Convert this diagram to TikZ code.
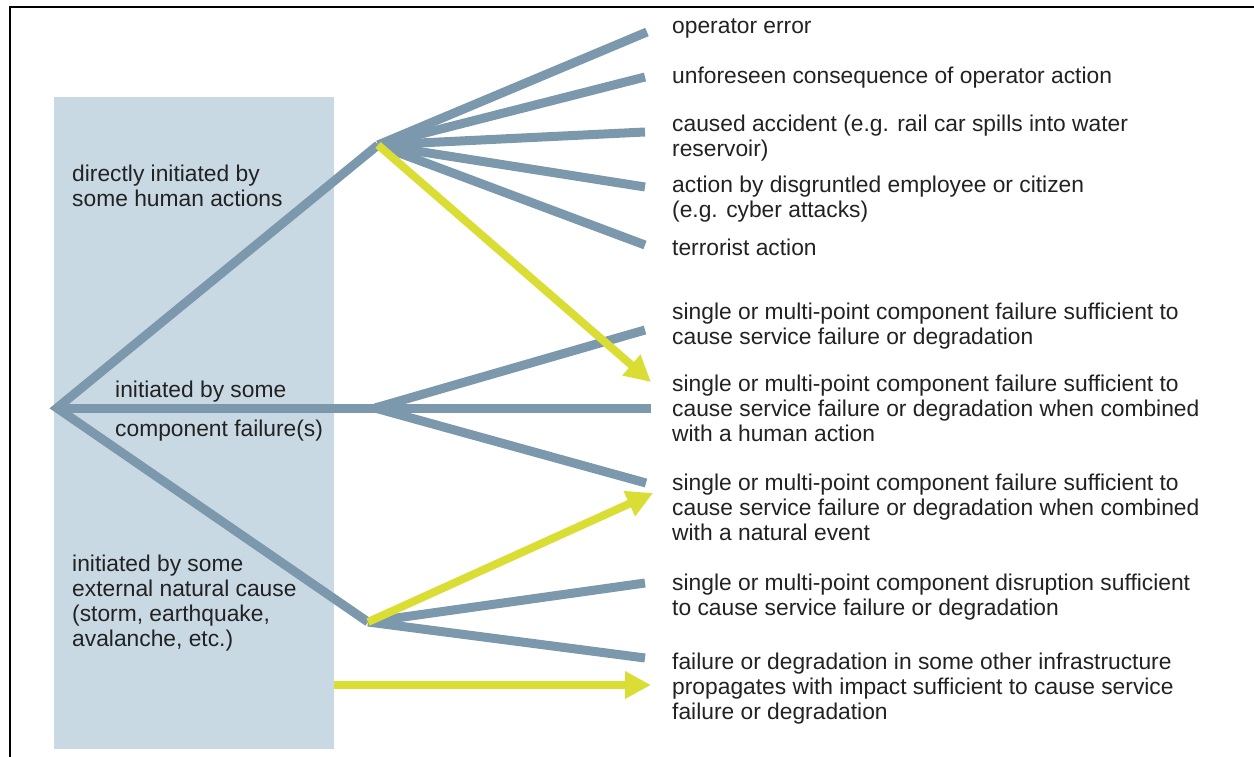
\documentclass[tikz,border=0pt]{standalone}
\usepackage{fontspec}
\setmainfont{Liberation Sans}
\usetikzlibrary{arrows.meta}
\definecolor{boxfill}{HTML}{C9D9E3}
\definecolor{branch}{HTML}{7C98AD}
\definecolor{hilite}{HTML}{DADD33}
\definecolor{txt}{HTML}{222222}
\tikzset{
  grayline/.style={draw=branch, line width=9pt, line cap=butt},
  yellowarrow/.style={draw=hilite, line width=8pt, -{Triangle[length=26pt,width=26pt]}, shorten >=0pt},
  lbl/.style={anchor=base west, inner sep=0pt, align=left, text=txt, font=\fontsize{22.8}{25}\selectfont},
}
\begin{document}
\begin{tikzpicture}[x=1pt,y=-1pt]
\useasboundingbox (0,0) rectangle (1254,757);
% frame
\draw[line width=2pt] (10,757) -- (10,7) -- (1254,7);
% background box
\fill[boxfill] (54,97) rectangle (334,749);
% hubs and ends
\coordinate (root) at (57,408);
\coordinate (h1) at (378,145);
\coordinate (h2) at (375,408);
\coordinate (h3) at (368,622);
\coordinate (e1) at (647,32);
\coordinate (e2) at (645,77);
\coordinate (e3) at (645,132);
\coordinate (e4) at (645,187);
\coordinate (e5) at (645,245);
\coordinate (e6) at (645,330);
\coordinate (e7) at (651,408);
\coordinate (e8) at (646,483);
\coordinate (e9) at (645,583);
\coordinate (e10) at (645,658);
\coordinate (y1) at (651,382);
\coordinate (y2) at (653,493);
\coordinate (ys) at (334,685);
\coordinate (ye) at (651,685);
% gray lines
\draw[grayline, line join=miter] (h1) -- (root) -- (h3);
\draw[grayline] (root) -- (h2);
\foreach \e in {e1,e2,e3,e4,e5} \draw[grayline] (h1) -- (\e);
\foreach \e in {e6,e7,e8} \draw[grayline] (h2) -- (\e);
\foreach \e in {e9,e10} \draw[grayline] (h3) -- (\e);
% yellow arrows
\draw[yellowarrow] (h1) -- (y1);
\draw[yellowarrow] (h3) -- (y2);
\draw[yellowarrow] (ys) -- (ye);
% left labels (positions: baseline of last line)
\node[lbl] (l1) at (72,207) {directly initiated by\\some human actions};
\node[lbl] (l2a) at (115,397) {initiated by some};
\node[lbl] (l2b) at (115,436) {component failure(s)};
\node[lbl] (l3) at (72,646) {initiated by some\\external natural cause\\(storm, earthquake,\\avalanche, etc.)};
% right labels
\node[lbl] (t1) at (672,34) {operator error};
\node[lbl] (t2) at (672,84) {unforeseen consequence of operator action};
\node[lbl] (t3) at (672,157) {caused accident (e.g. rail car spills into water\\reservoir)};
\node[lbl] (t4) at (672,218) {action by disgruntled employee or citizen\\(e.g. cyber attacks)};
\node[lbl] (t5) at (672,255) {terrorist action};
\node[lbl] (t6) at (672,344) {single or multi-point component failure sufficient to\\cause service failure or degradation};
\node[lbl] (t7) at (672,441) {single or multi-point component failure sufficient to\\cause service failure or degradation when combined\\with a human action};
\node[lbl] (t8) at (672,540) {single or multi-point component failure sufficient to\\cause service failure or degradation when combined\\with a natural event};
\node[lbl] (t9) at (672,615) {single or multi-point component disruption sufficient\\to cause service failure or degradation};
\node[lbl] (t10) at (672,719) {failure or degradation in some other infrastructure\\propagates with impact sufficient to cause service\\failure or degradation};
\end{tikzpicture}
\end{document}
